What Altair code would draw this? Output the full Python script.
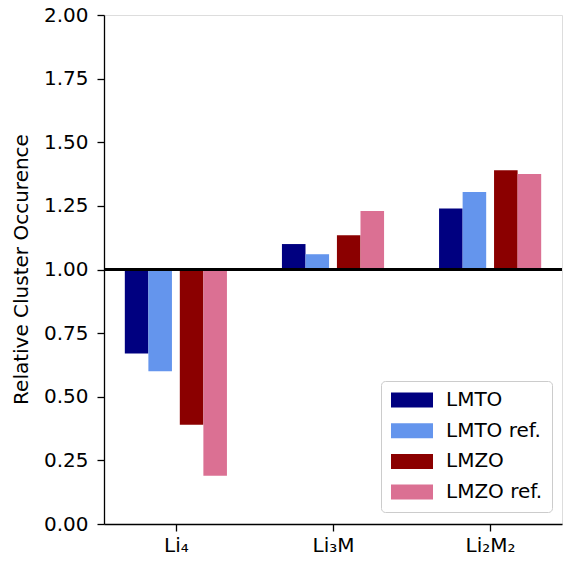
import altair as alt
import pandas as pd

categories = ["Li₄", "Li₃M", "Li₂M₂"]
series = ["LMTO", "LMTO ref.", "LMZO", "LMZO ref."]
colors = ["#000080", "#6495ED", "#8B0000", "#DB7093"]
offsets = [-0.25, -0.1, 0.1, 0.25]
lmto = [0.67, 1.10, 1.24]
lmto_ref = [0.60, 1.06, 1.305]
lmzo = [0.39, 1.135, 1.39]
lmzo_ref = [0.19, 1.23, 1.375]

values = [lmto, lmto_ref, lmzo, lmzo_ref]
rows = []
for s, off, vals in zip(series, offsets, values):
    for i, v in enumerate(vals):
        rows.append({"series": s, "idx": i, "off": off, "value": v})
df = pd.DataFrame(rows)

label_expr = "datum.value == 0 ? '%s' : datum.value == 1 ? '%s' : '%s'" % tuple(categories)

xscale = alt.Scale(domain=[-0.4575, 2.4575], nice=False, zero=False)
yscale = alt.Scale(domain=[0, 2], nice=False)

FONT = "DejaVu Sans"

bars = alt.Chart(df).transform_calculate(
    x0="datum.idx + datum.off - 0.075",
    x1="datum.idx + datum.off + 0.075",
).mark_bar(stroke=None).encode(
    x=alt.X("x0:Q", scale=xscale,
            axis=alt.Axis(values=[0, 1, 2], labelExpr=label_expr, title=None, grid=False,
                          domainColor="black", tickColor="black", tickSize=7,
                          labelFontSize=20, labelPadding=4, labelColor="black",
                          labelFont=FONT, domainWidth=1.3, tickWidth=1.3)),
    x2="x1:Q",
    y=alt.Y("value:Q", scale=yscale,
            axis=alt.Axis(values=[0, 0.25, 0.5, 0.75, 1.0, 1.25, 1.5, 1.75, 2.0], format=".2f",
                          title="Relative Cluster Occurence", grid=False,
                          domainColor="black", tickColor="black", tickSize=7,
                          labelFontSize=20, labelPadding=9, labelColor="black",
                          labelFont=FONT, domainWidth=1.3, tickWidth=1.3,
                          titleFont=FONT, titleFontSize=20, titleFontWeight="normal",
                          titleColor="black", titleX=-83, titleY=254, titleAngle=270,
                          titleAlign="center", titleBaseline="middle")),
    y2=alt.datum(1),
    color=alt.Color("series:N", scale=alt.Scale(domain=series, range=colors),
                    sort=series,
                    legend=alt.Legend(title=None, orient="none", legendX=277, legendY=366,
                                      symbolType="M-2.625,-0.9375L2.625,-0.9375L2.625,0.9375L-2.625,0.9375Z",
                                      symbolSize=256, symbolStrokeWidth=0, symbolOffset=12,
                                      labelFontSize=20, labelFont=FONT,
                                      labelColor="black", labelOffset=24,
                                      rowPadding=10.7, padding=9,
                                      strokeColor="#cccccc", fillColor="white",
                                      cornerRadius=4)),
)

rule_df = pd.DataFrame({"y": [1.0]})
rule = alt.Chart(rule_df).mark_rule(color="black", strokeWidth=3).encode(
    y=alt.Y("y:Q", scale=yscale),
)

chart = alt.layer(bars, rule).properties(
    width=458, height=509,
    autosize=alt.AutoSizeParams(type="none"),
    padding={"left": 96, "top": 7, "right": 1, "bottom": 31},
).configure_view(stroke="black", strokeWidth=1.3).configure(background="white")

chart.save("out.html", embed_options={"renderer": "svg", "actions": False})
